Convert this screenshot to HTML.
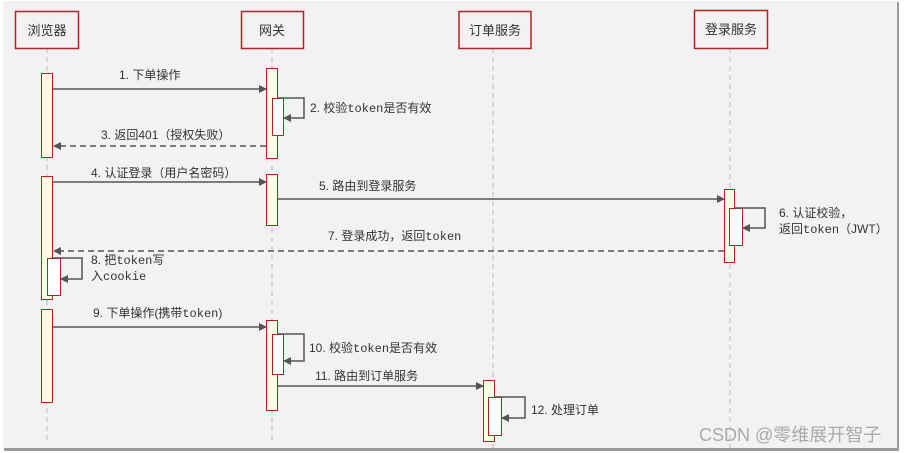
<!DOCTYPE html>
<html><head><meta charset="utf-8"><style>
html,body{margin:0;padding:0;background:#fff;}
svg{display:block;}
text{font-family:"Liberation Sans","Noto Sans CJK SC",sans-serif;font-size:12px;fill:#333;}
.m{font-family:"Liberation Mono","Noto Sans CJK SC",monospace;}
</style></head><body>
<svg width="905" height="453" viewBox="0 0 905 453" xmlns="http://www.w3.org/2000/svg">
<defs>
<marker id="a" markerWidth="8" markerHeight="8" refX="7" refY="4" orient="auto" markerUnits="userSpaceOnUse">
<path d="M0,0 L8,4 L0,8 Z" fill="#555"/></marker>
</defs>
<rect x="0" y="0" width="905" height="453" fill="#fff"/>
<rect x="4" y="2" width="895" height="449" fill="#9a9a9a"/>
<rect x="3" y="1" width="894" height="447" fill="#f2f2f2"/>
<g stroke="#bbb" stroke-width="1" stroke-dasharray="5,4">
<line x1="47" y1="48" x2="47" y2="440"/>
<line x1="272" y1="48" x2="272" y2="440"/>
<line x1="493" y1="48" x2="493" y2="448"/>
<line x1="730" y1="48" x2="730" y2="448"/>
</g>
<g fill="#f2f2f2" stroke="#b22222" stroke-width="1.5">
<rect x="15.5" y="11.5" width="63" height="37"/>
<rect x="241.5" y="11.5" width="62" height="37"/>
<rect x="459" y="11.5" width="72" height="37"/>
<rect x="694.5" y="10.5" width="73" height="38"/>
</g>
<g text-anchor="middle">
<text x="47" y="35" style="font-size:13px">浏览器</text>
<text x="272" y="35" style="font-size:13px">网关</text>
<text x="495" y="35" style="font-size:13px">订单服务</text>
<text x="731" y="34" style="font-size:13px">登录服务</text>
</g>
<g fill="#ffffe6" stroke="#b22222" stroke-width="1">
<rect x="41.5" y="73.5" width="11" height="84"/>
<rect x="41.5" y="176.5" width="11" height="123"/>
<rect x="41.5" y="309.5" width="11" height="93"/>
<rect x="266.5" y="68.5" width="11" height="90"/>
<rect x="266.5" y="174.5" width="11" height="51"/>
<rect x="266.5" y="320.5" width="11" height="90"/>
<rect x="724.5" y="189.5" width="10" height="73"/>
<rect x="483.5" y="380.5" width="11" height="61"/>
</g>
<g fill="#fff" stroke="#b22222" stroke-width="1">
<rect x="47.5" y="258.5" width="13" height="37"/>
<rect x="272.5" y="98.5" width="11" height="37"/>
<rect x="272.5" y="334.5" width="11" height="40"/>
<rect x="729.5" y="208.5" width="13" height="37"/>
<rect x="488.5" y="397.5" width="13" height="38"/>
</g>
<g stroke="#555" stroke-width="1.5" fill="none">
<line x1="53" y1="89" x2="266" y2="89" marker-end="url(#a)"/>
<polyline points="278,98 304,98 304,118 284,118" marker-end="url(#a)"/>
<line x1="266" y1="146" x2="54" y2="146" stroke-dasharray="6,4" marker-end="url(#a)"/>
<line x1="53" y1="182" x2="266" y2="182" marker-end="url(#a)"/>
<line x1="278" y1="199" x2="724" y2="199" marker-end="url(#a)"/>
<polyline points="735,208 765,208 765,228 743,228" marker-end="url(#a)"/>
<line x1="724" y1="251" x2="54" y2="251" stroke-dasharray="6,4" marker-end="url(#a)"/>
<polyline points="53,258 82,258 82,279 61,279" marker-end="url(#a)"/>
<line x1="53" y1="327" x2="266" y2="327" marker-end="url(#a)"/>
<polyline points="278,334 304,334 304,361 284,361" marker-end="url(#a)"/>
<line x1="278" y1="386" x2="483" y2="386" marker-end="url(#a)"/>
<polyline points="495,397 525,397 525,418 502,418" marker-end="url(#a)"/>
</g>
<text x="119" y="79">1. 下单操作</text>
<text x="310" y="112">2. 校验<tspan class="m">token</tspan>是否有效</text>
<text x="101" y="139">3. 返回401（授权失败）</text>
<text x="91" y="177">4. 认证登录（用户名密码）</text>
<text x="319" y="190">5. 路由到登录服务</text>
<text x="779" y="217">6. 认证校验，</text>
<text x="779" y="233">返回<tspan class="m">token</tspan>（JWT）</text>
<text x="328" y="240">7. 登录成功，返回<tspan class="m">token</tspan></text>
<text x="91" y="264">8. 把<tspan class="m">token</tspan>写</text>
<text x="91" y="280">入<tspan class="m">cookie</tspan></text>
<text x="93" y="317">9. 下单操作(携带<tspan class="m">token</tspan>)</text>
<text x="309" y="352">10. 校验<tspan class="m">token</tspan>是否有效</text>
<text x="315" y="380">11. 路由到订单服务</text>
<text x="531" y="414">12. 处理订单</text>
<text x="699" y="441" style="font-size:18px;fill:#aaa">CSDN @零维展开智子</text>
</svg>
</body></html>
